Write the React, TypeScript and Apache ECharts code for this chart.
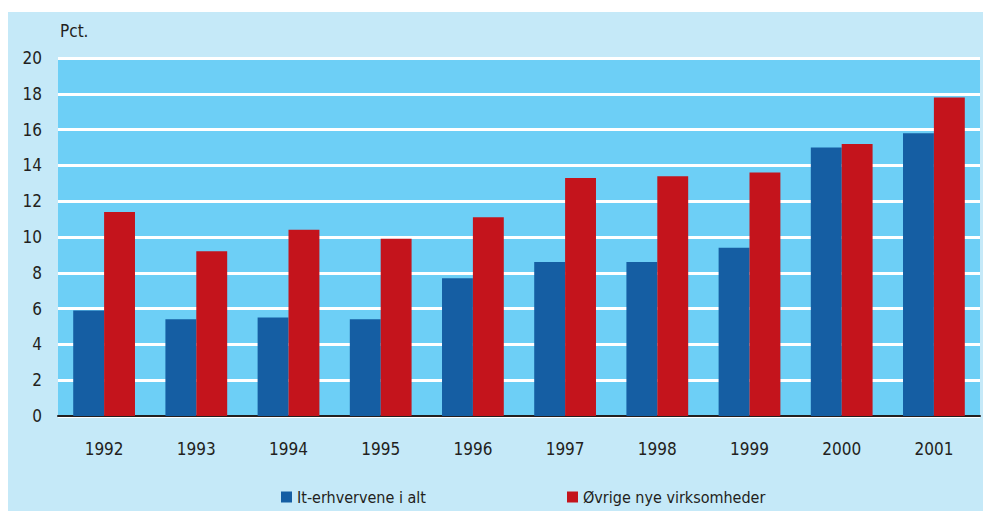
import React, { useEffect, useRef } from "react";
import * as echarts from "echarts";

const years = ["1992", "1993", "1994", "1995", "1996", "1997", "1998", "1999", "2000", "2001"];
const itValues = [5.9, 5.4, 5.5, 5.4, 7.7, 8.6, 8.6, 9.4, 15.0, 15.8];
const otherValues = [11.4, 9.2, 10.4, 9.9, 11.1, 13.3, 13.4, 13.6, 15.2, 17.8];
const seriesNames = ["It-erhvervene i alt", "Øvrige nye virksomheder"];
const unitLabel = "Pct.";

const FONT = "'DejaVu Sans Condensed', 'Liberation Sans Narrow', 'Noto Sans', sans-serif";
const TEXT = "#231f20";

export default function App() {
  const ref = useRef<HTMLDivElement>(null);
  useEffect(() => {
    const chart = echarts.init(ref.current!, null, { renderer: "svg" });
    chart.setOption({
      animation: false,
      textStyle: { fontFamily: FONT },
      graphic: [
        {
          type: "rect",
          z: -10,
          shape: { x: 8, y: 12, width: 975, height: 499 },
          style: { fill: "#c5e9f8" },
          silent: true,
        },
        {
          type: "text",
          x: 60,
          y: 22,
          style: { text: unitLabel, font: `17px ${FONT}`, fill: TEXT },
        },
      ],
      grid: {
        left: 58,
        right: 3,
        top: 58,
        bottom: 95,
        show: true,
        backgroundColor: "#6dcff6",
        borderWidth: 0,
      },
      legend: [
        {
          data: [seriesNames[0]],
          left: 276,
          top: 484,
          itemWidth: 11,
          itemHeight: 11,
          icon: "rect",
          textStyle: { fontFamily: FONT, fontSize: 16, color: TEXT },
        },
        {
          data: [seriesNames[1]],
          left: 562,
          top: 484,
          itemWidth: 11,
          itemHeight: 11,
          icon: "rect",
          textStyle: { fontFamily: FONT, fontSize: 16, color: TEXT },
        },
      ],
      xAxis: {
        type: "category",
        data: years,
        axisTick: { show: false },
        axisLine: { show: true, lineStyle: { color: "#231f20", width: 2 } },
        axisLabel: { color: TEXT, fontSize: 17, fontFamily: FONT, margin: 24 },
      },
      yAxis: {
        type: "value",
        min: 0,
        max: 20,
        interval: 2,
        axisLine: { show: false },
        axisTick: { show: false },
        axisLabel: { color: TEXT, fontSize: 17, fontFamily: FONT, margin: 16 },
        splitLine: { show: true, lineStyle: { color: "#ffffff", width: 3 } },
      },
      series: [
        {
          name: seriesNames[0],
          type: "bar",
          data: itValues,
          barGap: "0%",
          barCategoryGap: "33%",
          itemStyle: { color: "#155ea3" },
        },
        {
          name: seriesNames[1],
          type: "bar",
          data: otherValues,
          itemStyle: { color: "#c4141c" },
        },
      ],
    });
    return () => chart.dispose();
  }, []);
  return (
    <div
      ref={ref}
      style={{ position: "absolute", left: 0, top: 0, width: 983, height: 511 }}
    />
  );
}
